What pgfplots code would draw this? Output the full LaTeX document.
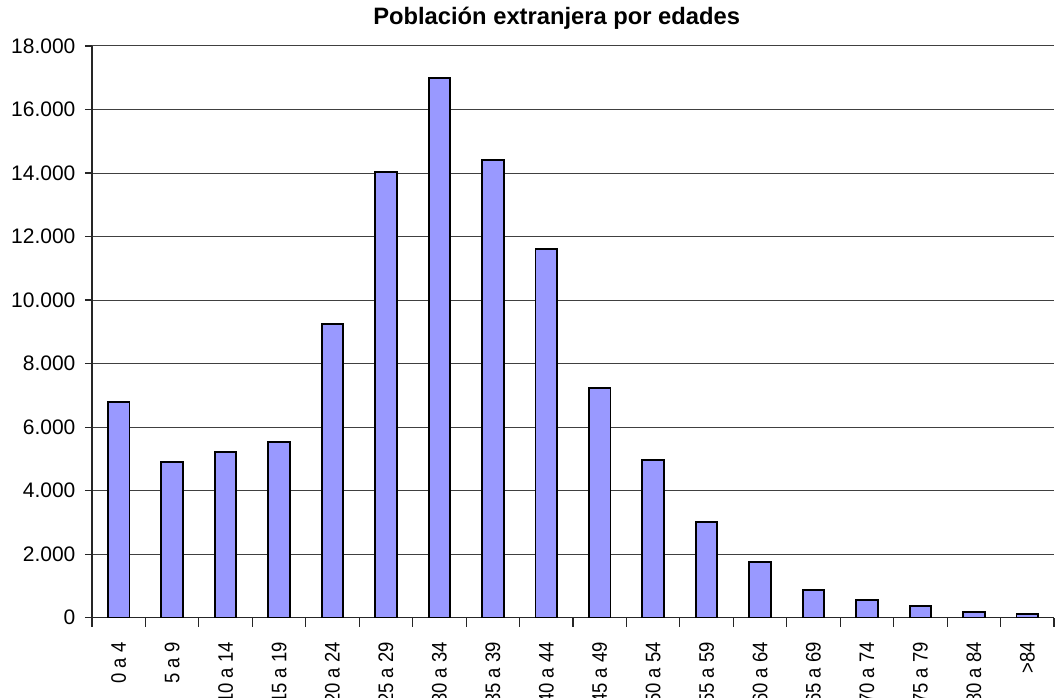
\documentclass[border=0pt]{standalone}
\usepackage{graphicx}
\usepackage{fontspec}
\setmainfont{Liberation Sans}
\usepackage{pgfplots}
\pgfplotsset{compat=1.18}
\definecolor{barfill}{HTML}{9999FF}
\newcommand\xl[1]{\scalebox{0.88}[1]{#1}}
\begin{document}
\begin{tikzpicture}
\useasboundingbox (-69pt,-60.2pt) rectangle (723pt,463.3pt);
\begin{axis}[
  scale only axis,
  width=721.5pt, height=428.8pt,
  xmin=-0.5, xmax=17.5,
  ymin=0, ymax=18000,
  scaled y ticks=false,
  axis x line*=bottom, axis y line*=left,
  axis line style={black!85, line width=0.9pt},
  tick align=outside,
  xtick={0,...,17},
  xticklabels={\xl{0 a 4},\xl{5 a 9},\xl{10 a 14},\xl{15 a 19},\xl{20 a 24},\xl{25 a 29},\xl{30 a 34},\xl{35 a 39},\xl{40 a 44},\xl{45 a 49},\xl{50 a 54},\xl{55 a 59},\xl{60 a 64},\xl{65 a 69},\xl{70 a 74},\xl{75 a 79},\xl{80 a 84},\xl{>84}},
  major x tick style={draw=none},
  minor xtick={-0.5,0.5,1.5,2.5,3.5,4.5,5.5,6.5,7.5,8.5,9.5,10.5,11.5,12.5,13.5,14.5,15.5,16.5,17.5},
  minor x tick style={black!85, line width=0.9pt},
  minor tick length=6.75pt,
  major tick length=5.25pt,
  ytick={0,2000,4000,6000,8000,10000,12000,14000,16000,18000},
  yticklabels={0,2.000,4.000,6.000,8.000,10.000,12.000,14.000,16.000,18.000},
  y tick style={black!85, line width=0.9pt},
  ymajorgrids,
  grid style={black!75, line width=0.75pt},
  tick label style={font=\fontsize{15.75}{18}\selectfont},
  xticklabel style={yshift=-13pt, rotate=90, anchor=east, inner sep=0pt},
  yticklabel style={anchor=east, inner sep=0pt, xshift=-7pt},
  title={\bfseries Población extranjera por edades},
  title style={at={(rel axis cs:0.483,1)}, anchor=base, inner sep=0pt, yshift=9.75pt, font=\fontsize{17.8}{20}\selectfont},
]
\addplot[ybar, bar width=16.2pt, fill=barfill, draw=black, line width=1.4pt]
coordinates {
(0,6780) (1,4900) (2,5220) (3,5520) (4,9250) (5,14030) (6,16990) (7,14420) (8,11620)
(9,7230) (10,4970) (11,3010) (12,1750) (13,870) (14,560) (15,370) (16,170) (17,115)
};
\end{axis}
\end{tikzpicture}
\end{document}
